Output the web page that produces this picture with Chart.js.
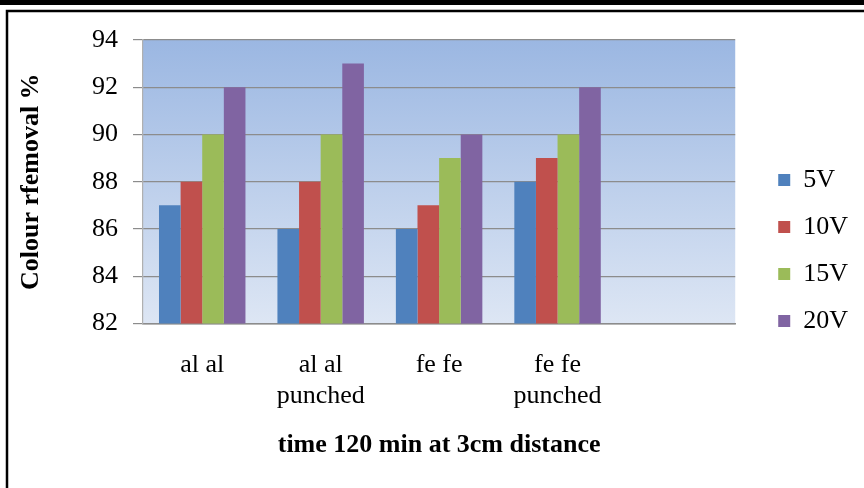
<!DOCTYPE html>
<html><head><meta charset="utf-8">
<script src="https://cdn.jsdelivr.net/npm/chart.js@4.4.0/dist/chart.umd.min.js"></script>
<style>html,body{margin:0;padding:0;background:#fff;}#wrap{position:relative;width:864px;height:488px;}</style>
</head><body>
<div id="wrap"><canvas id="c" width="864" height="488"></canvas></div>
<script>
const categories = [["al al"], ["al al", "punched"], ["fe fe"], ["fe fe", "punched"], [""]];
const seriesNames = ["5V", "10V", "15V", "20V"];
const v5 = [87, 86, 86, 88, null];
const v10 = [88, 88, 87, 89, null];
const v15 = [90, 90, 89, 90, null];
const v20 = [92, 93, 90, 92, null];
const yTicks = [82, 84, 86, 88, 90, 92, 94];
const colors = ["#4F81BD", "#C0504D", "#9BBB59", "#8064A2"];
const values = [v5, v10, v15, v20];

const FONT = "'Liberation Serif', 'Times New Roman', serif";

const bgPlugin = {
  id: 'bg',
  beforeDraw(chart) {
    const ctx = chart.ctx;
    ctx.save();
    ctx.fillStyle = '#fff';
    ctx.fillRect(0, 0, chart.width, chart.height);
    ctx.fillStyle = '#000';
    ctx.fillRect(0, 0, chart.width, 5);
    ctx.strokeStyle = '#000';
    ctx.lineWidth = 2.5;
    ctx.beginPath();
    ctx.moveTo(7, chart.height + 2);
    ctx.lineTo(7, 11);
    ctx.lineTo(chart.width + 2, 11);
    ctx.stroke();
    const a = chart.chartArea;
    const g = ctx.createLinearGradient(0, a.top, 0, a.bottom);
    g.addColorStop(0, '#9BB7E2');
    g.addColorStop(1, '#DDE6F4');
    ctx.fillStyle = g;
    ctx.fillRect(a.left, a.top, a.right - a.left, a.bottom - a.top);
    ctx.restore();
  }
};

new Chart(document.getElementById('c'), {
  type: 'bar',
  data: {
    labels: categories,
    datasets: seriesNames.map((n, i) => ({
      label: n,
      data: values[i],
      backgroundColor: colors[i],
      borderWidth: 0,
      categoryPercentage: 0.73,
      barPercentage: 1.0
    }))
  },
  options: {
    responsive: false,
    animation: false,
    devicePixelRatio: 1,
    layout: { padding: { top: 40, left: 0, right: 6, bottom: 27 } },
    plugins: {
      legend: {
        position: 'right',
        align: 'center',
        labels: {
          font: { family: FONT, size: 26 },
          color: '#000',
          boxWidth: 12,
          boxHeight: 12,
          padding: 21
        }
      },
      tooltip: { enabled: false }
    },
    scales: {
      x: {
        grid: { display: false, drawTicks: false },
        border: { display: true, color: '#8C8C8C', width: 1.5 },
        ticks: { font: { family: FONT, size: 26 }, color: '#000', padding: 26, maxRotation: 0 },
        title: { display: true, text: 'time 120 min at 3cm distance', font: { family: FONT, size: 26, weight: 'bold' }, color: '#000', padding: { top: -8, bottom: 0 } }
      },
      y: {
        min: 82, max: 94,
        afterBuildTicks(axis) { axis.ticks = yTicks.map(v => ({ value: v })); },
        grid: { color: '#8C8C8C', lineWidth: 1.2, tickLength: 10, drawTicks: true },
        border: { display: true, color: '#B0B0B0', width: 1.2 },
        ticks: { font: { family: FONT, size: 26 }, color: '#000', padding: 15 },
        title: { display: true, text: 'Colour rfemoval %', font: { family: FONT, size: 26, weight: 'bold' }, color: '#000', padding: { top: 16, bottom: 37 } }
      },
      spacer: {
        type: 'linear',
        position: 'right',
        display: true,
        grid: { display: false, drawTicks: true, tickLength: 22 },
        border: { display: false },
        ticks: { display: false },
        title: { display: false }
      }
    }
  },
  plugins: [bgPlugin]
});
</script>
</body></html>
